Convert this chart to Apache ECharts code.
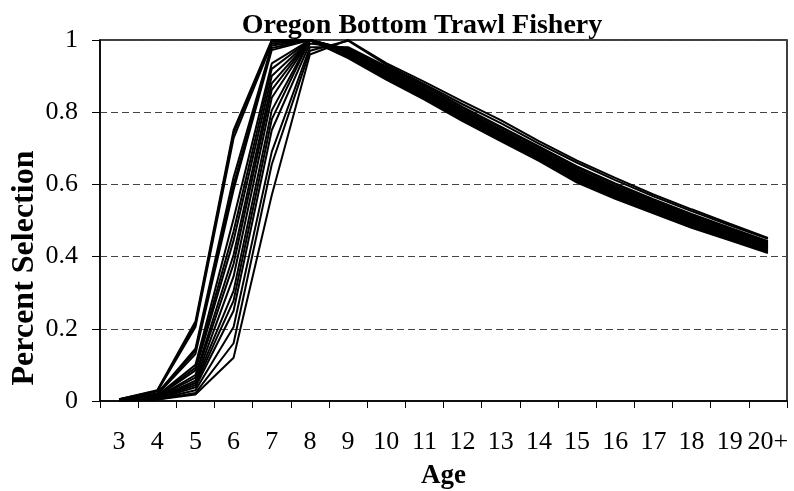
<!DOCTYPE html>
<html>
<head>
<meta charset="utf-8">
<script src="https://cdn.jsdelivr.net/npm/echarts@6/dist/echarts.min.js"></script>
<style>
html,body{margin:0;padding:0;background:#fff;}
#chart{width:794px;height:491px;}
</style>
</head>
<body>
<div id="chart"></div>
<script>
var ages = ['3','4','5','6','7','8','9','10','11','12','13','14','15','16','17','18','19','20+'];
var yTicks = [0, 0.2, 0.4, 0.6, 0.8, 1];

var sel01 = [0.005, 0.030, 0.220, 0.750, 1.000, 1.000, 0.950, 0.890, 0.835, 0.775, 0.720, 0.665, 0.605, 0.560, 0.520, 0.480, 0.445, 0.410];
var sel02 = [0.005, 0.028, 0.212, 0.742, 0.995, 1.000, 0.952, 0.892, 0.838, 0.778, 0.722, 0.668, 0.608, 0.563, 0.522, 0.482, 0.447, 0.413];
var sel03 = [0.004, 0.026, 0.205, 0.728, 0.990, 1.000, 0.955, 0.895, 0.840, 0.780, 0.725, 0.670, 0.612, 0.566, 0.525, 0.485, 0.450, 0.415];
var sel04 = [0.004, 0.021, 0.145, 0.620, 0.985, 1.000, 0.957, 0.898, 0.843, 0.783, 0.728, 0.673, 0.615, 0.569, 0.528, 0.488, 0.452, 0.417];
var sel05 = [0.004, 0.020, 0.138, 0.600, 0.978, 1.000, 0.960, 0.900, 0.846, 0.786, 0.731, 0.676, 0.618, 0.572, 0.530, 0.490, 0.455, 0.420];
var sel06 = [0.003, 0.018, 0.130, 0.585, 0.972, 1.000, 0.962, 0.903, 0.849, 0.789, 0.734, 0.679, 0.621, 0.575, 0.533, 0.493, 0.457, 0.422];
var sel07 = [0.003, 0.015, 0.100, 0.505, 0.935, 1.000, 0.964, 0.906, 0.852, 0.792, 0.737, 0.682, 0.624, 0.578, 0.536, 0.496, 0.460, 0.424];
var sel08 = [0.003, 0.013, 0.092, 0.470, 0.920, 1.000, 0.966, 0.909, 0.855, 0.795, 0.740, 0.685, 0.627, 0.581, 0.539, 0.499, 0.462, 0.426];
var sel09 = [0.003, 0.012, 0.085, 0.445, 0.900, 1.000, 0.968, 0.911, 0.857, 0.797, 0.742, 0.687, 0.630, 0.584, 0.541, 0.501, 0.464, 0.428];
var sel10 = [0.003, 0.010, 0.072, 0.405, 0.880, 1.000, 0.970, 0.913, 0.859, 0.799, 0.744, 0.689, 0.632, 0.586, 0.543, 0.503, 0.466, 0.430];
var sel11 = [0.002, 0.010, 0.065, 0.380, 0.862, 1.000, 0.971, 0.915, 0.861, 0.801, 0.746, 0.691, 0.634, 0.588, 0.545, 0.505, 0.468, 0.432];
var sel12 = [0.002, 0.008, 0.056, 0.345, 0.840, 1.000, 0.972, 0.917, 0.863, 0.803, 0.748, 0.693, 0.637, 0.591, 0.548, 0.507, 0.470, 0.434];
var sel13 = [0.002, 0.008, 0.050, 0.305, 0.805, 1.000, 0.973, 0.919, 0.865, 0.805, 0.750, 0.695, 0.639, 0.593, 0.550, 0.509, 0.472, 0.436];
var sel14 = [0.002, 0.007, 0.044, 0.278, 0.780, 1.000, 0.974, 0.921, 0.867, 0.807, 0.752, 0.697, 0.641, 0.595, 0.552, 0.511, 0.474, 0.438];
var sel15 = [0.002, 0.006, 0.038, 0.250, 0.750, 0.990, 0.978, 0.925, 0.872, 0.812, 0.757, 0.702, 0.646, 0.600, 0.556, 0.515, 0.477, 0.441];
var sel16 = [0.002, 0.005, 0.030, 0.205, 0.690, 0.980, 0.980, 0.927, 0.874, 0.815, 0.760, 0.705, 0.650, 0.603, 0.559, 0.518, 0.480, 0.443];
var sel17 = [0.001, 0.004, 0.022, 0.160, 0.655, 0.970, 0.998, 0.932, 0.878, 0.822, 0.770, 0.713, 0.660, 0.612, 0.567, 0.526, 0.487, 0.449];
var sel18 = [0.001, 0.004, 0.018, 0.120, 0.570, 0.960, 1.000, 0.936, 0.884, 0.830, 0.778, 0.720, 0.666, 0.618, 0.572, 0.531, 0.491, 0.452];

var allSel = [sel01, sel02, sel03, sel04, sel05, sel06, sel07, sel08, sel09,
              sel10, sel11, sel12, sel13, sel14, sel15, sel16, sel17, sel18];

var FONT = "'Liberation Serif', 'Times New Roman', serif";

var chart = echarts.init(document.getElementById('chart'), null, {renderer: 'canvas'});
chart.setOption({
  animation: false,
  backgroundColor: '#fff',
  title: {
    text: 'Oregon Bottom Trawl Fishery',
    left: 417, top: 7, textAlign: 'center',
    textStyle: {fontFamily: FONT, fontWeight: 'bold', fontSize: 28, color: '#000'}
  },
  graphic: [{
    type: 'text',
    x: 25, y: 268,
    rotation: Math.PI / 2,
    silent: true,
    style: {
      text: 'Percent Selection',
      fontFamily: FONT, fontWeight: 'bold', fontSize: 32, fill: '#000',
      textAlign: 'center', textVerticalAlign: 'middle'
    }
  }],
  grid: {
    left: 100, right: 7, top: 40, bottom: 90,
    outerBoundsMode: 'none',
    containLabel: false,
    show: true, borderColor: '#000', borderWidth: 1.5, backgroundColor: 'transparent'
  },
  xAxis: {
    type: 'category',
    data: ages,
    boundaryGap: true,
    name: 'Age',
    nameLocation: 'middle',
    nameGap: 62,
    nameTextStyle: {fontFamily: FONT, fontWeight: 'bold', fontSize: 27, color: '#000'},
    axisLine: {lineStyle: {color: '#000', width: 1.5}},
    axisTick: {show: true, length: 7, lineStyle: {color: '#000', width: 1}},
    axisLabel: {fontFamily: FONT, fontSize: 26, color: '#000', margin: 28, interval: 0},
    splitLine: {show: false}
  },
  yAxis: {
    type: 'value',
    min: 0, max: 1, interval: 0.2,
    axisLine: {show: true, lineStyle: {color: '#000', width: 1.5}},
    axisTick: {show: true, length: 8, lineStyle: {color: '#000', width: 1}},
    axisLabel: {fontFamily: FONT, fontSize: 26, color: '#000', margin: 22,
      formatter: function (v) { return yTicks.indexOf(Math.round(v * 10) / 10) >= 0 ? String(Math.round(v * 10) / 10) : ''; }},
    splitLine: {show: true, lineStyle: {color: '#444', width: 1, type: [7, 4]}}
  },
  series: allSel.map(function (d, i) {
    return {
      name: 'sel' + (i + 1),
      type: 'line',
      data: d,
      symbol: 'none',
      silent: true,
      lineStyle: {color: '#000', width: 2},
      z: 3
    };
  })
});
</script>
</body>
</html>
